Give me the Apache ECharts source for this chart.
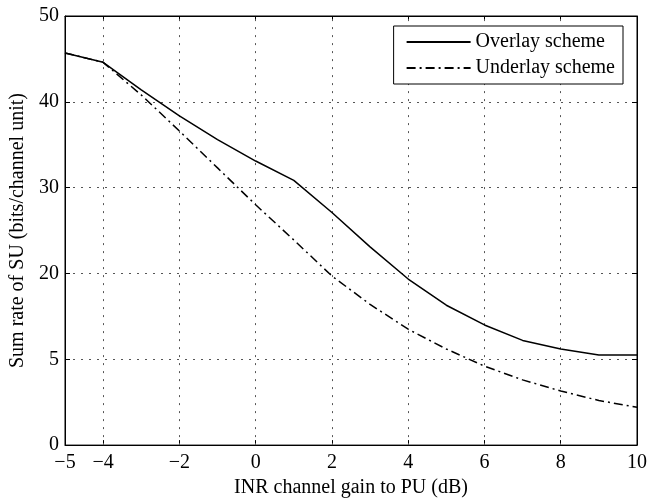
<!DOCTYPE html>
<html>
<head>
<meta charset="utf-8">
<script src="https://cdn.jsdelivr.net/npm/echarts@6/dist/echarts.min.js"></script>
<style>
html,body{margin:0;padding:0;background:#fff;}
#chart{width:650px;height:503px;}
</style>
</head>
<body>
<div id="chart"></div>
<script>
// ---- data ----
var xValues = [-5, -4, -3, -2, -1, 0, 1, 2, 3, 4, 5, 6, 7, 8, 9, 10];
var overlayValues = [45.7, 44.6, 41.4, 38.35, 35.6, 33.1, 30.85, 27.1, 23.1, 19.35, 16.3, 14.0, 12.2, 11.2, 10.5, 10.5];
var underlayValues = [45.7, 44.6, 40.8, 36.6, 32.3, 28.0, 23.9, 19.7, 16.4, 13.5, 11.2, 9.2, 7.6, 6.3, 5.2, 4.4];
var xTickValues = [-5, -4, -2, 0, 2, 4, 6, 8, 10];
var xGridValues = [-4, -2, 0, 2, 4, 6, 8];
var yTickLabels = ['0', '5', '20', '30', '40', '50'];
var seriesNames = ['Overlay scheme', 'Underlay scheme'];
var xTitle = 'INR channel gain to PU (dB)';
var yTitle = 'Sum rate of SU (bits/channel unit)';

function pairs(ys) { return xValues.map(function (x, i) { return [x, ys[i]]; }); }
function fmtX(v) { return v < 0 ? '\u2212' + Math.abs(v) : String(v); }

var FONT = 'Liberation Serif';
var chart = echarts.init(document.getElementById('chart'), null, { renderer: 'canvas' });
var gridDot = { color: '#555', width: 1, type: [2, 6] };

chart.setOption({
  animation: false,
  backgroundColor: '#fff',
  textStyle: { fontFamily: FONT, color: '#000' },
  grid: { left: 65, right: 12, top: 16, bottom: 52, show: true, borderColor: '#000', borderWidth: 1, backgroundColor: 'transparent' },
  legend: {
    show: true,
    orient: 'vertical',
    right: 27,
    top: 26,
    backgroundColor: '#fff',
    borderColor: '#000',
    borderWidth: 1,
    padding: [6, 8, 6, 12],
    itemGap: 6,
    itemWidth: 64,
    itemHeight: 14,
    itemStyle: { opacity: 0 },
    textStyle: { fontFamily: FONT, fontSize: 20, color: '#000' },
    data: [seriesNames[0], seriesNames[1]]
  },
  xAxis: [{
    type: 'value', min: -5, max: 10, interval: 1,
    axisLine: { show: true, onZero: false, lineStyle: { color: '#000', width: 1 } },
    axisTick: { show: true, inside: true, length: 5, customValues: xTickValues, lineStyle: { color: '#000' } },
    axisLabel: { customValues: xTickValues, formatter: fmtX, fontFamily: FONT, fontSize: 20, color: '#000', margin: 8 },
    splitLine: { show: false },
    name: xTitle, nameLocation: 'middle', nameGap: 31,
    nameTextStyle: { fontFamily: FONT, fontSize: 20, color: '#000' }
  }, {
    type: 'value', min: -5, max: 10, interval: 1, position: 'top',
    axisLine: { show: true, onZero: false, lineStyle: { color: '#000', width: 1 } },
    axisTick: { show: true, inside: true, length: 5, customValues: xTickValues, lineStyle: { color: '#000' } },
    axisLabel: { show: false },
    splitLine: { show: false }
  }],
  yAxis: [{
    type: 'value', min: 0, max: 50, interval: 10,
    axisLine: { show: true, onZero: false, lineStyle: { color: '#000', width: 1 } },
    axisTick: { show: true, inside: true, length: 5, lineStyle: { color: '#000' } },
    axisLabel: {
      formatter: function (v) { return yTickLabels[Math.round(v / 10)]; },
      fontFamily: FONT, fontSize: 20, color: '#000', margin: 6
    },
    splitLine: { show: true, lineStyle: gridDot },
    name: yTitle, nameLocation: 'middle', nameGap: 37,
    nameTextStyle: { fontFamily: FONT, fontSize: 20, color: '#000' }
  }, {
    type: 'value', min: 0, max: 50, interval: 10, position: 'right',
    axisLine: { show: true, onZero: false, lineStyle: { color: '#000', width: 1 } },
    axisTick: { show: true, inside: true, length: 5, lineStyle: { color: '#000' } },
    axisLabel: { show: false },
    splitLine: { show: false }
  }],
  series: [{
    name: seriesNames[0], type: 'line', xAxisIndex: 0, yAxisIndex: 0,
    data: pairs(overlayValues), symbol: 'none', z: 3,
    lineStyle: { color: '#000', width: 1.5, type: 'solid' },
    itemStyle: { color: '#000' },
    markLine: {
      silent: true, symbol: ['none', 'none'], label: { show: false }, animation: false,
      lineStyle: gridDot, z: 1,
      data: xGridValues.map(function (v) { return { xAxis: v }; })
    }
  }, {
    name: seriesNames[1], type: 'line', xAxisIndex: 0, yAxisIndex: 0,
    data: pairs(underlayValues), symbol: 'none', z: 2,
    lineStyle: { color: '#000', width: 1.5, type: [9, 4, 2, 4] },
    itemStyle: { color: '#000' }
  }]
});
</script>
</body>
</html>
